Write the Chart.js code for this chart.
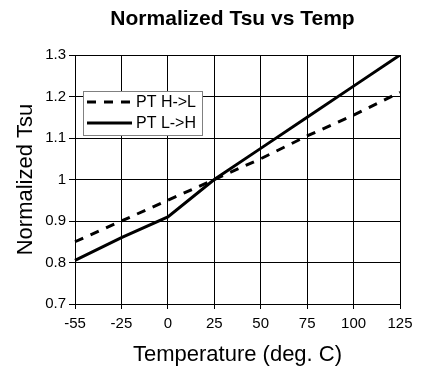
<!DOCTYPE html>
<html lang="en">
<head>
  <meta charset="UTF-8">
  <title>Normalized Tsu vs Temp</title>
  <script src="https://cdn.jsdelivr.net/npm/chart.js"></script>
  <style>
    body { margin: 0; background: #fff; }
    canvas { display: block; }
  </style>
</head>
<body>
  <canvas id="tsuChart" width="425" height="371"></canvas>

  <script>
    // Temperature categories (deg. C)
    const temps = ['-55', '-25', '0', '25', '50', '75', '100', '125'];
    // Normalized Tsu
    const ptHighToLow = [0.85, 0.90, 0.95, 1.00, 1.05, 1.105, 1.155, 1.21];
    const ptLowToHigh = [0.805, 0.86, 0.91, 1.00, 1.075, 1.15, 1.225, 1.30];
    const yTicks = [0.7, 0.8, 0.9, 1.0, 1.1, 1.2, 1.3];

    const family = '"Liberation Sans", Arial, sans-serif';

    // Boxed legend sitting inside the plot area
    const boxLegend = {
      id: 'boxLegend',
      afterDatasetsDraw(chart) {
        const { ctx, chartArea } = chart;
        const x = chartArea.left + 8, y = chartArea.top + 36, w = 119, h = 44;
        ctx.save();
        ctx.fillStyle = '#fff';
        ctx.fillRect(x, y, w, h);
        ctx.strokeStyle = '#808080';
        ctx.lineWidth = 1;
        ctx.strokeRect(x + 0.5, y + 0.5, w, h);
        ctx.font = '16px ' + family;
        ctx.textBaseline = 'middle';
        chart.data.datasets.forEach((ds, i) => {
          const ly = y + 11 + i * 21;
          ctx.strokeStyle = ds.borderColor;
          ctx.lineWidth = ds.borderWidth;
          ctx.setLineDash(ds.borderDash || []);
          ctx.beginPath();
          ctx.moveTo(x + 4, ly);
          ctx.lineTo(x + 49, ly);
          ctx.stroke();
          ctx.setLineDash([]);
          ctx.fillStyle = '#000';
          ctx.fillText(ds.label, x + 53, ly + 1);
        });
        ctx.restore();
      }
    };

    // Title centred over the plot, not the whole canvas
    const topTitle = {
      id: 'topTitle',
      afterDraw(chart) {
        const { ctx, chartArea } = chart;
        ctx.save();
        ctx.font = 'bold 21px ' + family;
        ctx.textAlign = 'center';
        ctx.textBaseline = 'middle';
        ctx.fillStyle = '#000';
        ctx.fillText('Normalized Tsu vs Temp', (chartArea.left + chartArea.right) / 2 - 5, 19);
        ctx.restore();
      }
    };

    new Chart(document.getElementById('tsuChart'), {
      type: 'line',
      data: {
        labels: temps,
        datasets: [
          {
            label: 'PT H->L',
            data: ptHighToLow,
            borderColor: '#000',
            borderWidth: 3,
            borderDash: [9, 8],
            pointRadius: 0,
            fill: false,
            tension: 0
          },
          {
            label: 'PT L->H',
            data: ptLowToHigh,
            borderColor: '#000',
            borderWidth: 3,
            pointRadius: 0,
            fill: false,
            tension: 0
          }
        ]
      },
      options: {
        responsive: false,
        animation: false,
        layout: { padding: { top: 55, right: 25, bottom: 0, left: 0 } },
        plugins: {
          legend: { display: false },
          title: { display: false },
          tooltip: { enabled: false }
        },
        scales: {
          x: {
            offset: false,
            grid: { color: '#000', lineWidth: 1, tickLength: 5, offset: false },
            border: { color: '#000' },
            ticks: {
              color: '#000',
              font: { size: 15, family: family },
              padding: 6,
              maxRotation: 0,
              autoSkip: false
            },
            title: {
              display: true,
              text: 'Temperature (deg. C)',
              color: '#000',
              font: { size: 22, family: family },
              padding: { top: 0, bottom: 3 }
            },
            afterFit: s => { s.height = 67; }
          },
          y: {
            min: 0.7,
            max: 1.3,
            afterBuildTicks: s => { s.ticks = yTicks.map(v => ({ value: v })); },
            grid: { color: '#000', lineWidth: 1, tickLength: 6 },
            border: { color: '#000' },
            ticks: {
              color: '#000',
              font: { size: 15, family: family },
              padding: 3,
              callback: v => String(Number(v.toFixed(1)))
            },
            title: {
              display: true,
              text: 'Normalized Tsu',
              color: '#000',
              font: { size: 22, family: family },
              padding: { top: 13, bottom: 0 }
            },
            afterFit: s => { s.width = 75; }
          }
        }
      },
      plugins: [boxLegend, topTitle]
    });
  </script>
</body>
</html>
